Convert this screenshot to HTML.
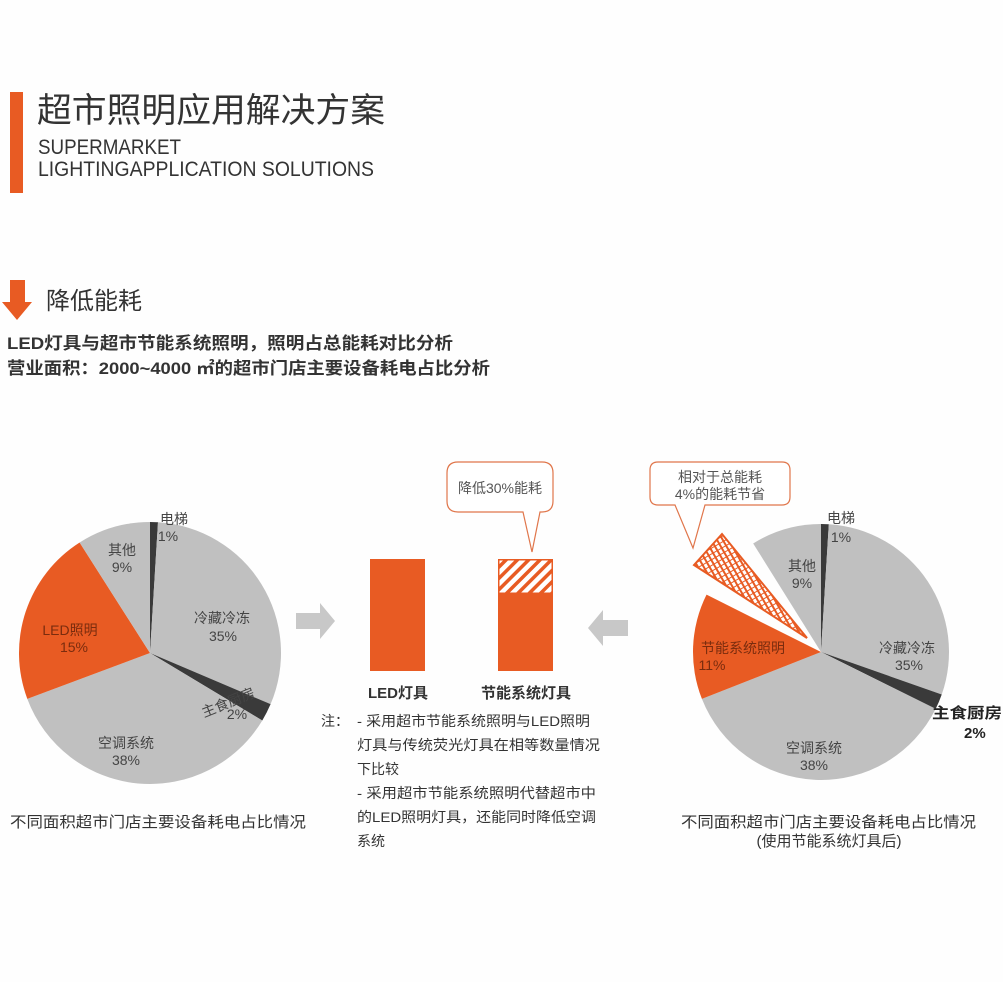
<!DOCTYPE html>
<html><head><meta charset="utf-8"><style>
html,body{margin:0;padding:0;background:#fefefe;}
body{width:1003px;height:982px;overflow:hidden;position:relative;}
svg{position:absolute;left:0;top:0;}
text{font-family:"Liberation Sans","Noto Sans CJK SC",sans-serif;}
</style></head><body>
<svg width="1003" height="982" viewBox="0 0 1003 982" xmlns="http://www.w3.org/2000/svg">
<defs>
<pattern id="h1" patternUnits="userSpaceOnUse" width="8" height="8" patternTransform="rotate(45)">
<rect width="8" height="8" fill="#fff"/><rect width="3.5" height="8" fill="#e85b23"/></pattern>
<pattern id="h2" patternUnits="userSpaceOnUse" width="5" height="5" patternTransform="rotate(-30)">
<rect width="5" height="5" fill="#fff"/><rect width="2" height="5" fill="#e85b23"/><rect width="5" height="1" fill="#e85b23"/></pattern>
</defs>
<rect x="10" y="92" width="13" height="101" fill="#e85b23"/>
<text x="37" y="122" font-size="34" fill="#333" textLength="348" lengthAdjust="spacingAndGlyphs">超市照明应用解决方案</text>
<text x="38" y="154" font-size="21" fill="#333" textLength="143" lengthAdjust="spacingAndGlyphs">SUPERMARKET</text>
<text x="38" y="176" font-size="21" fill="#333" textLength="336" lengthAdjust="spacingAndGlyphs">LIGHTINGAPPLICATION SOLUTIONS</text>
<polygon points="10,280 25,280 25,302 32,302 17,320 2,302 10,302" fill="#e85b23"/>
<text x="46" y="309" font-size="24" fill="#333">降低能耗</text>
<text x="7" y="349" font-size="17" fill="#333" font-weight="bold" textLength="446" lengthAdjust="spacingAndGlyphs">LED灯具与超市节能系统照明，照明占总能耗对比分析</text>
<text x="7" y="374" font-size="17" fill="#333" font-weight="bold" textLength="483" lengthAdjust="spacingAndGlyphs">营业面积：2000~4000 ㎡的超市门店主要设备耗电占比分析</text>
<g id="pies"></g>
<polygon points="296,613 320,613 320,603 335,621 320,639 320,629 296,629" fill="#c8c8c8"/>
<polygon points="628,620 603,620 603,610 588,628 603,646 603,636 628,636" fill="#c8c8c8"/>
<rect x="370" y="559" width="55" height="112" fill="#e85b23"/>
<rect x="498" y="559" width="55" height="112" fill="#e85b23"/>
<rect x="499.5" y="560.5" width="52" height="32" fill="url(#h1)"/>
<path d="M458,462 H542 Q553,462 553,473 V501 Q553,512 542,512 H540 L532,552 L523,512 H458 Q447,512 447,501 V473 Q447,462 458,462 Z" fill="#fff" stroke="#e0764b" stroke-width="1.2"/>
<text x="500" y="493" font-size="14" fill="#555" text-anchor="middle">降低30%能耗</text>
<path d="M658,462 H782 Q790,462 790,470 V497 Q790,505 782,505 H705 L693,548 L675,505 H658 Q650,505 650,497 V470 Q650,462 658,462 Z" fill="#fff" stroke="#e0764b" stroke-width="1.2"/>
<text x="720" y="482" font-size="14" fill="#555" text-anchor="middle">相对于总能耗</text>
<text x="720" y="499" font-size="14" fill="#555" text-anchor="middle">4%的能耗节省</text>
<polygon points="807,638 694,565 722,534" fill="url(#h2)" stroke="#e85b23" stroke-width="2"/>
<g font-size="14" fill="#444" text-anchor="middle">
<text x="174" y="524">电梯</text><text x="168" y="541">1%</text>
<text x="122" y="555">其他</text><text x="122" y="572">9%</text>
<text x="222" y="623">冷藏冷冻</text><text x="223" y="641">35%</text>
<text x="70" y="635" fill="#7a2c0e">LED照明</text><text x="74" y="652" fill="#7a2c0e">15%</text>
<text x="230" y="707" transform="rotate(-22 230 707)">主食厨房</text><text x="237" y="719">2%</text>
<text x="126" y="748">空调系统</text><text x="126" y="765">38%</text>
<text x="841" y="523">电梯</text><text x="841" y="542">1%</text>
<text x="802" y="571">其他</text><text x="802" y="588">9%</text>
<text x="907" y="653">冷藏冷冻</text><text x="909" y="670">35%</text>
<text x="743" y="653" fill="#7a2c0e">节能系统照明</text><text x="712" y="670" fill="#7a2c0e">11%</text>
<text x="814" y="753">空调系统</text><text x="814" y="770">38%</text>
</g>
<text x="932" y="718" font-size="15" font-weight="bold" fill="#222" textLength="70" lengthAdjust="spacingAndGlyphs">主食厨房</text>
<text x="964" y="738" font-size="15" font-weight="bold" fill="#222">2%</text>
<g font-size="15" fill="#333" font-weight="bold" text-anchor="middle">
<text x="398" y="698">LED灯具</text><text x="526" y="698">节能系统灯具</text>
</g>
<g font-size="14" fill="#333">
<text x="321" y="726">注：</text>
<text x="357" y="726" textLength="233" lengthAdjust="spacingAndGlyphs">- 采用超市节能系统照明与LED照明</text>
<text x="357" y="750" textLength="243" lengthAdjust="spacingAndGlyphs">灯具与传统荧光灯具在相等数量情况</text>
<text x="357" y="774">下比较</text>
<text x="357" y="798" textLength="239" lengthAdjust="spacingAndGlyphs">- 采用超市节能系统照明代替超市中</text>
<text x="357" y="822" textLength="239" lengthAdjust="spacingAndGlyphs">的LED照明灯具，还能同时降低空调</text>
<text x="357" y="846">系统</text>
<text x="10" y="827" font-size="15" textLength="296" lengthAdjust="spacingAndGlyphs">不同面积超市门店主要设备耗电占比情况</text>
<text x="681" y="827" font-size="15" textLength="295" lengthAdjust="spacingAndGlyphs">不同面积超市门店主要设备耗电占比情况</text>
<text x="829" y="846" font-size="15" text-anchor="middle">(使用节能系统灯具后)</text>
</g>
</svg>
<script>
(function(){
var g=document.getElementById('pies'),ns='http://www.w3.org/2000/svg';
function wedge(cx,cy,r,a0,a1,fill){
 var p=function(a){a=a*Math.PI/180;return [cx+r*Math.sin(a),cy-r*Math.cos(a)];};
 var s=p(a0),e=p(a1),l=(a1-a0)>180?1:0;
 var el=document.createElementNS(ns,'path');
 el.setAttribute('d','M'+cx+','+cy+' L'+s[0]+','+s[1]+' A'+r+','+r+' 0 '+l+' 1 '+e[0]+','+e[1]+' Z');
 el.setAttribute('fill',fill);g.appendChild(el);}
var G='#c0c0c0',D='#3a3a3a',O='#e85b23';
wedge(150,653,131,0,3.5,D);wedge(150,653,131,3.5,113,G);wedge(150,653,131,113,121,D);
wedge(150,653,131,121,249.5,G);wedge(150,653,131,249.5,327.5,O);wedge(150,653,131,327.5,360,G);
wedge(821,652,128,0,3.5,D);wedge(821,652,128,3.5,109.4,G);wedge(821,652,128,109.4,116.4,D);
wedge(821,652,128,116.4,248.5,G);wedge(821,652,128,248.5,296.6,O);wedge(821,652,128,328,360,G);
})();
</script>
</body></html>
